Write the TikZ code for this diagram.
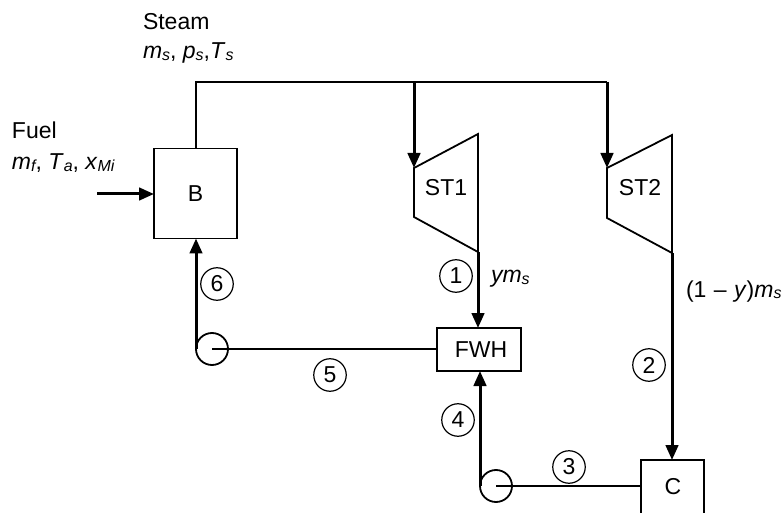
\documentclass[tikz,border=0pt]{standalone}
\usepackage{fontspec}
\setmainfont{Liberation Sans}
\usetikzlibrary{arrows.meta}
\newcommand{\sbs}[1]{\raisebox{-0.08em}{\fontsize{16}{16}\selectfont\itshape #1}}
\tikzset{
  x=1pt,y=-1pt,
  every node/.style={font=\fontsize{23}{23}\selectfont,inner sep=0pt,outer sep=0pt},
  unitbox/.style={draw,line width=1.8pt,rectangle,anchor=north west},
  thin line/.style={line width=1.8pt},
  flowarrow/.style={line width=3pt,-{Triangle[length=15pt,width=12.5pt]}},
  pump/.style={draw,circle,line width=1.8pt,minimum size=32pt},
  tag/.style={draw,circle,line width=1.2pt,minimum size=32.5pt},
  label text/.style={anchor=base west}
}
\begin{document}
\begin{tikzpicture}
\useasboundingbox (0,0) rectangle (782,513);
\clip (0,0) rectangle (782,513);
\fill[white] (0,0) rectangle (782,513);
% units
\node[unitbox,minimum width=83pt,minimum height=90pt] (B) at (154,148.5) {};
\node at (B.center) {B};
\node[unitbox,minimum width=84pt,minimum height=43pt] (FWH) at (437,328) {};
\node at (481,350) {FWH};
\node[unitbox,minimum width=63pt,minimum height=90pt] (C) at (641,460) {};
\node at (673,487) {C};
\node[pump] (P1) at (212,349) {};
\node[pump] (P2) at (496,486) {};
% turbines
\coordinate (T1in) at (414,168);
\coordinate (T1out) at (478,252);
\coordinate (T2in) at (607,168);
\coordinate (T2out) at (672,253);
\draw[thin line,line join=miter] (T1in) -- (478,134) -- (T1out) -- (414,217) -- cycle;
\draw[thin line,line join=miter] (T2in) -- (672,135) -- (T2out) -- (607,218) -- cycle;
\node at (446,188) {ST1};
\node at (640,188) {ST2};
% steam header
\coordinate (H0) at (196,82);
\coordinate (H1) at (414,82);
\coordinate (H2) at (607,82);
\draw[thin line] (B.north -| H0) -- (H0) -- (H2);
\draw[flowarrow] (H1) -- (T1in);
\draw[flowarrow] (H2) -- (T2in);
% fuel
\coordinate (F) at (97,194);
\draw[flowarrow] (F) -- (F -| B.west);
% flows
\draw[flowarrow] (T1out) -- (T1out |- FWH.north);
\draw[flowarrow] (T2out) -- (T2out |- C.north);
\draw[thin line] (C.west |- P2.center) -- (P2.center);
\draw[flowarrow] (P2.west) -- (P2.west |- FWH.south);
\draw[thin line] (FWH.west |- P1.center) -- (P1.center);
\draw[flowarrow] (P1.west) -- (P1.west |- B.south);
% tags
\node[tag] (t1) at (456,276) {1};
\node[tag] (t2) at (649,365) {2};
\node[tag] (t3) at (569,467) {3};
\node[tag] (t4) at (458,420) {4};
\node[tag] (t5) at (330,375) {5};
\node[tag] (t6) at (217,284) {6};
% labels
\node[label text] (steam) at (143,30) {Steam};
\node[label text] (steamv) at (143,59) {\textit{m}\sbs{s}, \textit{p}\sbs{s},\textit{T}\sbs{s}};
\node[label text] (fuel) at (12,139) {Fuel};
\node[label text] (fuelv) at (12,170) {\textit{m}\sbs{f}, \textit{T}\sbs{a}, \textit{x}\sbs{Mi}};
\node[label text] (ym) at (491,283) {\textit{ym}\sbs{s}};
\node[label text] (oym) at (686,297) {(1\hspace{1pt} – \hspace{1pt}\textit{y})\textit{m}\sbs{s}};
\end{tikzpicture}
\end{document}
